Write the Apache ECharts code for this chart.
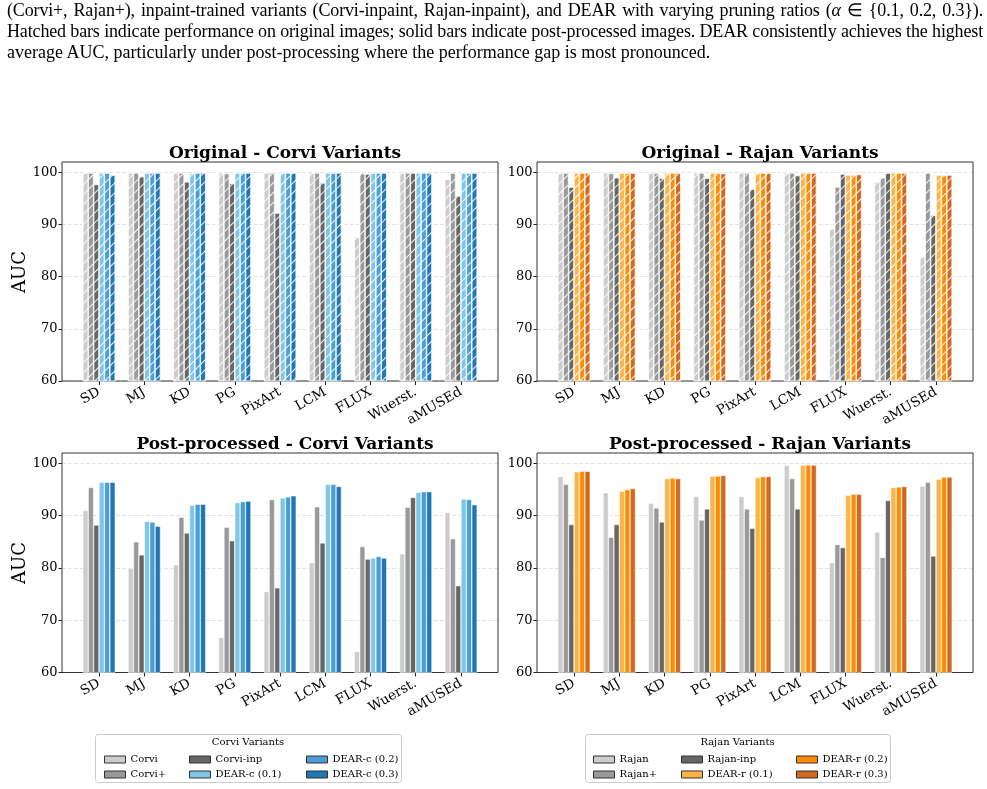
<!DOCTYPE html>
<html>
<head>
<meta charset="utf-8">
<script src="https://cdn.jsdelivr.net/npm/echarts@6/dist/echarts.min.js"></script>
<style>
html,body{margin:0;padding:0;background:#fff;}
#wrap{position:relative;width:987px;height:789px;background:#fff;overflow:hidden;}
#chart{position:absolute;left:0;top:0;width:987px;height:789px;}
#cap{position:absolute;left:7px;top:0;width:976px;font-family:'Liberation Serif','Times New Roman',serif;font-size:18px;line-height:21px;color:#000;}
#cap .j{text-align:justify;text-align-last:justify;white-space:nowrap;letter-spacing:-0.15px;word-spacing:-1.3px;}
</style>
</head>
<body>
<div id="wrap">
<div id="chart"></div>
<div id="cap">
<div class="j">(Corvi+, Rajan+), inpaint-trained variants (Corvi-inpaint, Rajan-inpaint), and DEAR with varying pruning ratios (<i>α</i> ∈ {0.1, 0.2, 0.3}).</div>
<div class="j">Hatched bars indicate performance on original images; solid bars indicate post-processed images. DEAR consistently achieves the highest</div>
<div>average AUC, particularly under post-processing where the performance gap is most pronounced.</div>
</div>
</div>
<script>
// ---------- data ----------
const categories = ['SD', 'MJ', 'KD', 'PG', 'PixArt', 'LCM', 'FLUX', 'Wuerst.', 'aMUSEd'];
const yTicks = [60, 70, 80, 90, 100];

const corviNames = ['Corvi', 'Corvi+', 'Corvi-inp', 'DEAR-c (0.1)', 'DEAR-c (0.2)', 'DEAR-c (0.3)'];
const rajanNames = ['Rajan', 'Rajan+', 'Rajan-inp', 'DEAR-r (0.1)', 'DEAR-r (0.2)', 'DEAR-r (0.3)'];

// Original (hatched) - Corvi variants
const origCorvi      = [99.9, 99.9, 99.9, 99.9, 99.9, 99.9, 87.6, 99.9, 98.7];
const origCorviPlus  = [99.9, 99.9, 99.9, 99.8, 99.9, 99.9, 99.8, 99.9, 99.9];
const origCorviInp   = [97.7, 99.2, 98.2, 97.9, 92.2, 98.0, 99.7, 99.9, 95.5];
const origDearC1     = [99.9, 99.9, 99.8, 99.9, 99.9, 99.9, 99.9, 99.9, 99.9];
const origDearC2     = [99.9, 99.9, 99.9, 99.9, 99.9, 99.9, 99.9, 99.9, 99.9];
const origDearC3     = [99.5, 99.9, 99.9, 99.9, 99.9, 99.9, 99.9, 99.9, 99.9];

// Original (hatched) - Rajan variants
const origRajan      = [99.9, 99.9, 99.9, 99.9, 99.9, 99.9, 89.2, 98.2, 83.8];
const origRajanPlus  = [99.9, 99.8, 99.9, 99.9, 99.9, 99.9, 97.2, 99.0, 99.9];
const origRajanInp   = [97.2, 99.0, 98.9, 98.9, 96.8, 99.4, 99.7, 99.9, 91.8];
const origDearR1     = [99.9, 99.9, 99.9, 99.9, 99.9, 99.9, 99.5, 99.9, 99.5];
const origDearR2     = [99.9, 99.9, 99.9, 99.9, 99.9, 99.9, 99.5, 99.9, 99.4];
const origDearR3     = [99.9, 99.9, 99.9, 99.8, 99.9, 99.9, 99.6, 99.9, 99.5];

// Post-processed (solid) - Corvi variants
const postCorvi      = [91.0, 79.9, 80.6, 66.7, 75.5, 81.0, 64.0, 82.7, 90.6];
const postCorviPlus  = [95.4, 85.0, 89.7, 87.8, 93.1, 91.7, 84.1, 91.6, 85.6];
const postCorviInp   = [88.2, 82.5, 86.7, 85.2, 76.2, 84.8, 81.7, 93.5, 76.6];
const postDearC1     = [96.4, 88.9, 92.0, 92.5, 93.4, 96.0, 81.9, 94.5, 93.2];
const postDearC2     = [96.4, 88.8, 92.2, 92.7, 93.6, 96.0, 82.2, 94.6, 93.1];
const postDearC3     = [96.4, 88.0, 92.2, 92.8, 93.8, 95.6, 81.9, 94.6, 92.1];

// Post-processed (solid) - Rajan variants
const postRajan      = [97.5, 94.4, 92.4, 93.7, 93.7, 99.6, 81.0, 86.9, 95.7];
const postRajanPlus  = [96.0, 85.9, 91.5, 89.2, 91.3, 97.1, 84.5, 82.0, 96.4];
const postRajanInp   = [88.3, 88.3, 88.8, 91.3, 87.6, 91.3, 83.9, 92.9, 82.3];
const postDearR1     = [98.4, 94.7, 97.1, 97.6, 97.3, 99.7, 93.9, 95.4, 97.0];
const postDearR2     = [98.5, 95.0, 97.2, 97.6, 97.5, 99.7, 94.1, 95.5, 97.4];
const postDearR3     = [98.5, 95.2, 97.1, 97.7, 97.5, 99.7, 94.1, 95.6, 97.4];

// ---------- styling ----------
const corviColors = ['#cccccc', '#999999', '#666666', '#7fc6e6', '#4a9ed6', '#1f77b4'];
const rajanColors = ['#cccccc', '#999999', '#666666', '#ffb347', '#ff8c00', '#d2691e'];
const FONT = 'DejaVu Serif';

const panels = [
  { title: 'Original - Corvi Variants',       names: corviNames, colors: corviColors, hatched: true,
    data: [origCorvi, origCorviPlus, origCorviInp, origDearC1, origDearC2, origDearC3],
    frame: { left: 62, top: 162, width: 436, height: 219 }, titleX: 280, titleY: 140 },
  { title: 'Original - Rajan Variants',       names: rajanNames, colors: rajanColors, hatched: true,
    data: [origRajan, origRajanPlus, origRajanInp, origDearR1, origDearR2, origDearR3],
    frame: { left: 537, top: 162, width: 436, height: 219 }, titleX: 755, titleY: 140 },
  { title: 'Post-processed - Corvi Variants', names: corviNames, colors: corviColors, hatched: false,
    data: [postCorvi, postCorviPlus, postCorviInp, postDearC1, postDearC2, postDearC3],
    frame: { left: 62, top: 453, width: 436, height: 219.5 }, titleX: 280, titleY: 431 },
  { title: 'Post-processed - Rajan Variants', names: rajanNames, colors: rajanColors, hatched: false,
    data: [postRajan, postRajanPlus, postRajanInp, postDearR1, postDearR2, postDearR3],
    frame: { left: 537, top: 453, width: 436, height: 219.5 }, titleX: 755, titleY: 431 }
];

const INSET = 14.4; // matplotlib x-margin beyond a category band
const hatch = {
  symbol: 'rect', symbolSize: 1, color: 'rgba(255,255,255,0.9)',
  dashArrayX: [1, 0], dashArrayY: [1, 6], rotation: -Math.PI / 4
};

const grid = [], xAxis = [], yAxis = [], series = [], title = [];
// bar grids 0..3
panels.forEach((p, i) => {
  grid.push({ left: p.frame.left + INSET, top: p.frame.top, width: p.frame.width - 2 * INSET, height: p.frame.height });
  xAxis.push({
    type: 'category', gridIndex: i, data: categories,
    axisLine: { show: false },
    axisTick: { show: true, alignWithLabel: true, length: 4, lineStyle: { color: '#222', width: 1 } },
    axisLabel: { rotate: 30, fontFamily: FONT, fontSize: 13.5, color: '#000', margin: 10, interval: 0 },
    splitLine: { show: false }
  });
  yAxis.push({ type: 'value', gridIndex: i, min: 60, max: 102, show: false });
  title.push({
    text: p.title, left: p.titleX, top: p.titleY, textAlign: 'center',
    textStyle: { fontFamily: FONT, fontSize: 17, fontWeight: 'bold', color: '#000' }
  });
});
// frame grids 4..7
panels.forEach((p, i) => {
  const gi = 4 + i;
  grid.push({ left: p.frame.left, top: p.frame.top, width: p.frame.width, height: p.frame.height,
              show: true, borderColor: '#333', borderWidth: 1, backgroundColor: 'transparent', z: 1 });
  xAxis.push({ type: 'value', gridIndex: gi, min: 0, max: 1, show: false });
  yAxis.push({
    type: 'value', gridIndex: gi, min: 60, max: 102, interval: 10,
    axisLine: { show: false },
    axisTick: { show: true, length: 3.5, customValues: yTicks, lineStyle: { color: '#222' } },
    axisLabel: { fontFamily: FONT, fontSize: 13, color: '#000', margin: 4.5, customValues: yTicks },
    splitLine: { show: true, lineStyle: { color: '#dddddd', width: 0.8, type: [4, 2] } }
  });
});

// solid (post-processed) series first so legend takes their visuals
[2, 3, 0, 1].forEach(i => {
  const p = panels[i];
  p.names.forEach((name, k) => {
    series.push({
      type: 'bar', name: name, xAxisIndex: i, yAxisIndex: i,
      data: p.data[k], barWidth: 5.4, barGap: '0%',
      itemStyle: Object.assign({ color: p.colors[k], borderColor: '#ffffff', borderWidth: 0.5 },
                               p.hatched ? { decal: hatch } : {}),
      emphasis: { disabled: true },
      z: 3
    });
  });
});

function legendCols(names, colors, xs) {
  const out = [];
  for (let c = 0; c < 3; c++) {
    out.push({
      orient: 'vertical', left: xs[c], top: 748, itemWidth: 21, itemHeight: 7, itemGap: 2,
      selectedMode: false, icon: 'rect',
      textStyle: { fontFamily: FONT, fontSize: 10, color: '#000', lineHeight: 13 },
      data: [0, 1].map(r => ({ name: names[c * 2 + r],
        itemStyle: { color: colors[c * 2 + r], borderColor: '#333', borderWidth: 1, decal: 'none' } }))
    });
  }
  return out;
}
const legend = legendCols(corviNames, corviColors, [99, 184, 301])
  .concat(legendCols(rajanNames, rajanColors, [588, 676, 791]));

const graphic = [
  { type: 'rect', z: 0, shape: { x: 95.5, y: 734.5, width: 306, height: 48, r: 3 }, style: { fill: '#fff', stroke: '#cccccc', lineWidth: 1 } },
  { type: 'rect', z: 0, shape: { x: 585.5, y: 734.5, width: 305, height: 48, r: 3 }, style: { fill: '#fff', stroke: '#cccccc', lineWidth: 1 } },
  { type: 'text', z: 5, x: 248, y: 742, style: { text: 'Corvi Variants', font: '10px "DejaVu Serif"', fill: '#000', textAlign: 'center', textVerticalAlign: 'middle' } },
  { type: 'text', z: 5, x: 737.5, y: 742, style: { text: 'Rajan Variants', font: '10px "DejaVu Serif"', fill: '#000', textAlign: 'center', textVerticalAlign: 'middle' } },
  { type: 'text', z: 5, x: 20, y: 272, rotation: Math.PI / 2, style: { text: 'AUC', font: '18px "DejaVu Serif"', fill: '#000', textAlign: 'center', textVerticalAlign: 'middle' } },
  { type: 'text', z: 5, x: 20, y: 563, rotation: Math.PI / 2, style: { text: 'AUC', font: '18px "DejaVu Serif"', fill: '#000', textAlign: 'center', textVerticalAlign: 'middle' } }
];

const chart = echarts.init(document.getElementById('chart'), null, { renderer: 'canvas' });
chart.setOption({
  backgroundColor: 'transparent',
  animation: false,
  title, grid, xAxis, yAxis, series, legend, graphic
});
</script>
</body>
</html>
